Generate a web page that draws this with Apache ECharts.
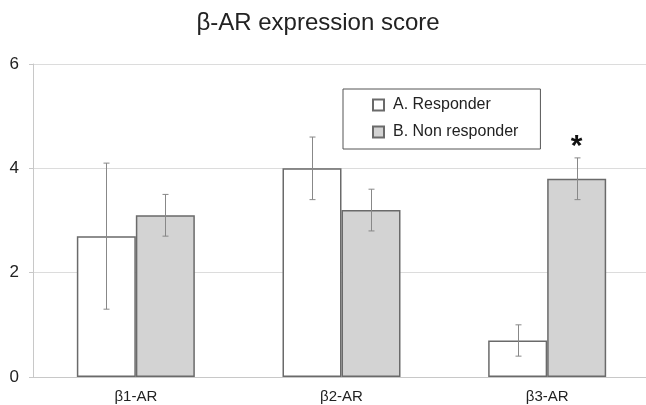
<!DOCTYPE html>
<html>
<head>
<meta charset="utf-8">
<script src="https://cdn.jsdelivr.net/npm/echarts@6/dist/echarts.min.js"></script>
<style>html,body{margin:0;padding:0;background:#fff;}#c{width:646px;height:405px;}</style>
</head>
<body>
<div id="c"></div>
<script>
var categories = ['β1-AR', 'β2-AR', 'β3-AR'];
var responder = [2.7, 4.0, 0.7];
var responderErr = [1.4, 0.6, 0.3];
var nonResponder = [3.1, 3.2, 3.8];
var nonResponderErr = [0.4, 0.4, 0.4];
var yTicks = [0, 2, 4, 6];

var BAR_W = 59;
var chart = echarts.init(document.getElementById('c'), null, {renderer: 'canvas'});

function errSeries(name, vals, errs, side) {
  return {
    type: 'custom',
    name: name + ' err',
    z: 5,
    silent: true,
    data: vals.map(function (v, i) { return [i, v - errs[i], v + errs[i]]; }),
    renderItem: function (params, api) {
      var lo = api.coord([api.value(0), api.value(1)]);
      var hi = api.coord([api.value(0), api.value(2)]);
      var x = Math.round(lo[0] + side * BAR_W / 2) + 0.5;
      var cap = 3;
      var st = {stroke: '#888', lineWidth: 1};
      return {
        type: 'group',
        children: [
          {type: 'line', shape: {x1: x, y1: lo[1], x2: x, y2: hi[1]}, style: st},
          {type: 'line', shape: {x1: x - cap, y1: lo[1], x2: x + cap, y2: lo[1]}, style: st},
          {type: 'line', shape: {x1: x - cap, y1: hi[1], x2: x + cap, y2: hi[1]}, style: st}
        ]
      };
    }
  };
}

var nonData = nonResponder.map(function (v, i) {
  if (i === 2) {
    return {value: v, label: {show: true, formatter: '*', position: 'top', distance: 17,
      fontSize: 30, fontWeight: 'bold', color: '#111', fontFamily: 'Liberation Sans', lineHeight: 30}};
  }
  return v;
});

chart.setOption({
  animation: false,
  backgroundColor: '#fff',
  title: {
    text: 'β-AR expression score',
    left: 313, textAlign: 'center', top: 6,
    textStyle: {fontFamily: 'Liberation Sans', fontSize: 24, fontWeight: 'normal', color: '#222'}
  },
  legend: {
    data: ['A. Responder', 'B. Non responder'],
    orient: 'vertical',
    left: 343, top: 89,
    padding: [8, 22, 9, 29],
    itemGap: 11,
    itemWidth: 11, itemHeight: 11,
    borderColor: '#555', borderWidth: 1,
    backgroundColor: '#fff',
    textStyle: {fontFamily: 'Liberation Sans', fontSize: 16, color: '#222', padding: [0, 0, 0, 4], lineHeight: 16},
    icon: 'rect'
  },
  grid: {left: 33, top: 64, width: 617, bottom: 28, containLabel: false, outerBoundsMode: 'none'},
  xAxis: {
    type: 'category',
    data: categories,
    axisLine: {lineStyle: {color: '#c8c8c8'}},
    axisTick: {show: false},
    axisLabel: {fontFamily: 'Liberation Sans', fontSize: 15, color: '#222', margin: 12}
  },
  yAxis: {
    type: 'value',
    min: 0, max: 6, interval: 2,
    axisLine: {show: true, lineStyle: {color: '#c8c8c8'}},
    axisTick: {show: true, length: 4, lineStyle: {color: '#c8c8c8'}},
    splitLine: {lineStyle: {color: '#dcdcdc'}},
    axisLabel: {fontFamily: 'Liberation Sans', fontSize: 17, color: '#222', margin: 14,
      formatter: function (v) { return yTicks.indexOf(v) >= 0 ? String(v) : ''; }}
  },
  series: [
    {
      type: 'bar', name: 'A. Responder', data: responder,
      barWidth: BAR_W, barGap: '0%',
      itemStyle: {color: '#fff', borderColor: '#6a6a6a', borderWidth: 1.5}
    },
    {
      type: 'bar', name: 'B. Non responder', data: nonData,
      barWidth: BAR_W, barGap: '0%',
      itemStyle: {color: '#d3d3d3', borderColor: '#6a6a6a', borderWidth: 1.5}
    },
    errSeries('A', responder, responderErr, -1),
    errSeries('B', nonResponder, nonResponderErr, 1)
  ]
});
</script>
</body>
</html>
